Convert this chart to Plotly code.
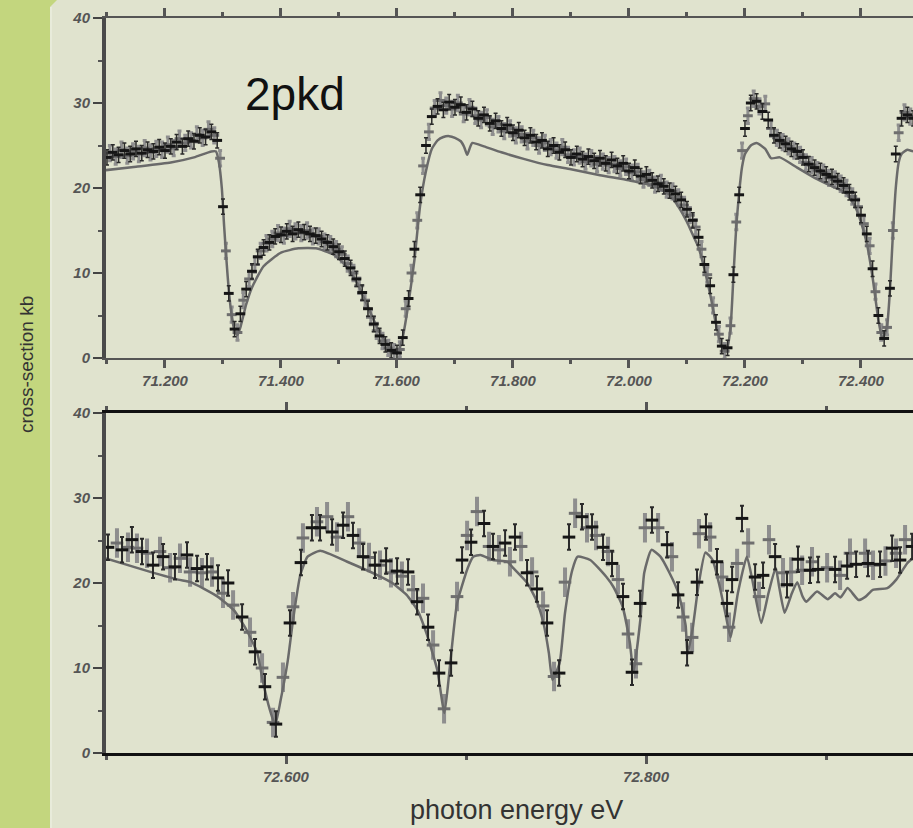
import numpy as np
import plotly.graph_objects as go

# ---------------- data: top panel (71.1 - 72.5 eV) ----------------
top_black_start = 71.10
top_gray_start = 71.105
top_step = 0.01
top_black = [
    23.6, 24.2, 23.9, 24.4, 24.0, 24.6, 24.1, 24.5, 24.3, 24.8,
    24.4, 24.9, 25.4, 24.9, 25.8, 25.5, 26.2, 26.0, 26.6, 25.6,
    17.8, 7.6, 3.4, 5.2, 8.1, 10.2, 11.9, 13.0, 13.6, 14.3,
    14.5, 14.9, 14.6, 15.1, 14.8, 14.6, 14.4, 14.0, 13.6, 13.1,
    12.5, 11.7, 10.6, 9.3, 7.7, 5.8, 4.0, 2.6, 1.6, 0.9,
    0.6, 2.4, 7.0, 12.8, 19.2, 25.0, 28.4, 29.6, 29.2, 30.1,
    29.5, 29.8, 28.9, 29.3, 28.2, 28.6, 27.6, 27.9, 27.0, 27.4,
    26.5, 26.8, 25.9, 26.2, 25.4, 25.6, 24.6, 25.0, 24.2, 24.5,
    23.6, 24.0, 23.4, 23.7, 23.2, 23.5, 22.9, 23.3, 22.6, 22.9,
    22.0, 22.4, 21.4, 21.6, 20.9, 20.5, 20.2, 19.7, 19.3, 18.6,
    17.5, 16.2, 14.2, 11.0, 8.5, 4.2, 1.4, 1.2, 9.8, 19.2,
    27.0, 30.0, 30.2, 29.0, 28.0, 26.2, 25.6, 25.2, 24.6, 24.3,
    23.6, 22.8, 22.4, 22.0, 21.6, 21.3, 20.8, 20.3, 19.5, 18.6,
    16.8, 14.6, 10.5, 5.0, 2.3, 8.2, 24.0, 28.2, 28.6, 28.2,
]
top_gray = [
    24.1, 23.7, 24.5, 23.8, 24.3, 24.0, 24.7, 24.2, 24.6, 24.5,
    25.1, 24.7, 25.8, 25.3, 25.6, 26.3, 25.9, 26.9, 26.2, 23.5,
    12.6, 5.1, 3.0, 6.8, 9.3, 11.0, 12.6, 13.5, 14.0, 14.7,
    14.4, 15.2, 14.9, 14.7, 15.0, 14.3, 14.3, 13.7, 13.4, 12.8,
    12.2, 11.1, 10.0, 8.5, 6.8, 4.8, 3.2, 2.0, 1.2, 0.7,
    1.0, 5.8, 10.0, 16.2, 22.6, 26.6, 29.4, 30.3, 29.7, 29.3,
    30.0, 28.7, 29.5, 28.5, 28.0, 28.3, 27.2, 27.5, 26.7, 27.0,
    26.2, 26.3, 25.5, 25.9, 25.0, 25.3, 24.8, 24.4, 24.8, 23.9,
    23.6, 23.8, 23.1, 23.5, 22.8, 23.1, 22.7, 22.8, 22.3, 22.5,
    21.8, 21.9, 21.0, 21.2, 20.4, 20.6, 19.8, 19.6, 18.9, 18.0,
    16.8, 15.4, 12.8, 9.8, 6.2, 2.8, 0.8, 3.8, 16.0, 24.4,
    28.5, 30.5, 29.6, 29.9, 27.0, 25.9, 25.4, 24.9, 24.4, 23.9,
    23.0, 22.7, 22.1, 21.8, 21.2, 21.0, 20.5, 20.0, 19.0, 17.8,
    15.8, 13.2, 7.8, 3.0, 3.6, 15.0, 26.5, 28.9, 28.4,
]
top_err = 0.9
top_theory_e = [
    71.098, 71.15, 71.21, 71.25, 71.28, 71.288, 71.293, 71.298, 71.302, 71.306,
    71.31, 71.315, 71.32, 71.325, 71.33, 71.34, 71.35, 71.37, 71.40, 71.43,
    71.46, 71.49, 71.51, 71.53, 71.55, 71.57, 71.59, 71.60, 71.61, 71.62,
    71.63, 71.64, 71.65, 71.66, 71.67, 71.68, 71.69, 71.70, 71.71, 71.716,
    71.721, 71.726, 71.73, 71.75, 71.78, 71.82, 71.86, 71.90, 71.95, 72.00,
    72.04, 72.07, 72.088, 72.10, 72.11, 72.12, 72.13, 72.14, 72.15, 72.16,
    72.168, 72.175, 72.18, 72.185, 72.19, 72.195, 72.20, 72.21, 72.22, 72.235,
    72.245, 72.26, 72.29, 72.32, 72.35, 72.375, 72.39, 72.40, 72.41, 72.42,
    72.43, 72.437, 72.445, 72.45, 72.455, 72.46, 72.465, 72.47, 72.48, 72.49,
]
top_theory = [
    22.1, 22.5, 23.0, 23.6, 24.3, 24.3, 23.0, 20.0, 15.5, 11.5,
    8.0, 5.0, 3.2, 2.7, 3.6, 6.3, 8.3, 10.8, 12.4, 12.9,
    12.9, 12.2, 11.0, 9.0, 6.0, 3.0, 1.0, 0.5, 2.5, 6.5,
    11.5, 18.0, 22.0, 24.6, 25.6, 26.0, 26.1, 25.9, 25.5, 24.8,
    23.9, 24.8, 25.3, 24.9, 24.2, 23.4, 22.7, 22.2, 21.5, 20.9,
    20.3, 19.2, 17.5, 16.0, 14.5, 13.0, 10.5, 7.5, 4.0, 1.3,
    0.8, 3.5, 9.5, 15.5, 19.5, 22.5, 24.0, 25.0, 25.3, 24.6,
    23.5, 23.6, 22.4, 21.2, 20.2, 19.4, 17.8, 16.0, 13.5, 9.5,
    4.5, 2.2, 3.8, 8.0, 14.5, 20.0, 23.0, 24.0, 24.5, 24.3,
]

# ---------------- data: bottom panel (72.5 - 72.95 eV) ----------------
bot_e = [
    72.5011, 72.5061, 72.5089, 72.5122, 72.5144, 72.5172, 72.5200, 72.5228, 72.5261, 72.5300,
    72.5317, 72.5356, 72.5383, 72.5411, 72.5450, 72.5467, 72.5506, 72.5533, 72.5561, 72.5589,
    72.5622, 72.5650, 72.5678, 72.5706, 72.5756, 72.5800, 72.5828, 72.5867, 72.5883, 72.5928,
    72.5944, 72.5983, 72.6022, 72.6039, 72.6083, 72.6094, 72.6144, 72.6172, 72.6189, 72.6228,
    72.6256, 72.6283, 72.6317, 72.6344, 72.6372, 72.6406, 72.6428, 72.6461, 72.6494, 72.6522,
    72.6556, 72.6583, 72.6617, 72.6644, 72.6678, 72.6706, 72.6728, 72.6761, 72.6789, 72.6817,
    72.6850, 72.6878, 72.6917, 72.6950, 72.6978, 72.7006, 72.7028, 72.7061, 72.7100, 72.7128,
    72.7150, 72.7183, 72.7217, 72.7244, 72.7272, 72.7306, 72.7339, 72.7367, 72.7394, 72.7428,
    72.7450, 72.7489, 72.7517, 72.7550, 72.7572, 72.7606, 72.7644, 72.7672, 72.7700, 72.7722,
    72.7761, 72.7789, 72.7811, 72.7844, 72.7872, 72.7900, 72.7922, 72.7944, 72.7967, 72.7994,
    72.8033, 72.8067, 72.8117, 72.8144, 72.8178, 72.8206, 72.8228, 72.8256, 72.8283, 72.8294,
    72.8333, 72.8356, 72.8394, 72.8422, 72.8450, 72.8461, 72.8478, 72.8506, 72.8533, 72.8567,
    72.8606, 72.8628, 72.8650, 72.8683, 72.8717, 72.8761, 72.8783, 72.8806, 72.8844, 72.8867,
    72.8911, 72.8922, 72.8956, 72.9006, 72.9050, 72.9078, 72.9117, 72.9133, 72.9167, 72.9217,
    72.9233, 72.9261, 72.9300, 72.9330, 72.9367, 72.9389, 72.9411, 72.9439, 72.9478,
]
bot_val = [
    24.2, 24.7, 23.9, 24.2, 25.1, 24.1, 23.7, 23.5, 22.1, 23.7,
    23.1, 21.8, 21.9, 22.9, 23.3, 21.3, 21.7, 21.2, 21.9, 21.3,
    20.6, 18.8, 20.0, 17.4, 16.0, 14.2, 11.9, 10.0, 7.8, 3.6,
    3.4, 8.9, 15.3, 17.2, 22.4, 25.3, 26.5, 27.2, 26.5, 27.8,
    26.0, 25.4, 26.8, 27.8, 25.6, 24.7, 23.1, 23.0, 22.1, 22.1,
    22.6, 21.2, 21.4, 20.8, 21.3, 19.2, 17.8, 18.2, 14.8, 12.7,
    9.4, 5.2, 10.6, 18.4, 22.7, 25.6, 24.8, 28.4, 27.0, 24.3,
    24.3, 23.9, 24.7, 22.5, 25.4, 24.3, 21.2, 21.3, 19.3, 17.3,
    15.3, 9.0, 9.4, 20.1, 25.4, 28.2, 27.8, 26.5, 26.6, 25.6,
    24.2, 23.7, 22.3, 20.4, 18.4, 14.0, 9.5, 10.5, 17.6, 26.5,
    27.4, 26.5, 24.5, 23.1, 18.6, 16.0, 11.8, 13.6, 20.1, 25.8,
    26.6, 25.4, 22.5, 20.7, 17.6, 14.8, 20.4, 22.3, 27.6, 24.7,
    20.7, 18.4, 20.9, 25.1, 23.1, 21.2, 19.8, 21.3, 22.8, 21.5,
    21.5, 22.5, 21.6, 21.8, 21.6, 20.9, 22.0, 23.5, 22.2, 23.5,
    22.3, 22.1, 22.2, 22.6, 24.1, 23.5, 22.7, 25.1, 24.3,
]
bot_err = 1.5
bot_theory_e = [
    72.500, 72.520, 72.540, 72.547, 72.562, 72.571, 72.578, 72.584, 72.587, 72.591,
    72.594, 72.597, 72.601, 72.604, 72.608, 72.612, 72.619, 72.634, 72.651, 72.659,
    72.667, 72.673, 72.678, 72.684, 72.688, 72.691, 72.695, 72.701, 72.704, 72.708,
    72.715, 72.723, 72.726, 72.734, 72.739, 72.743, 72.746, 72.748, 72.752, 72.755,
    72.759, 72.762, 72.769, 72.778, 72.782, 72.787, 72.791, 72.793, 72.797, 72.799,
    72.803, 72.808, 72.813, 72.818, 72.822, 72.823, 72.826, 72.829, 72.833, 72.837,
    72.841, 72.844, 72.847, 72.851, 72.856, 72.859, 72.864, 72.868, 72.872, 72.874,
    72.877, 72.881, 72.884, 72.887, 72.889, 72.895, 72.901, 72.905, 72.908, 72.912,
    72.918, 72.922, 72.926, 72.934, 72.939, 72.945, 72.949,
]
bot_theory = [
    22.9, 21.6, 20.4, 20.1, 18.4, 16.8, 14.5, 11.8, 8.6, 5.1,
    3.3, 6.2, 10.9, 15.8, 21.0, 23.1, 23.8, 22.5, 20.9, 20.0,
    18.6, 16.8, 14.1, 9.8, 4.7, 10.1, 17.6, 21.8, 23.1, 23.3,
    22.7, 22.5, 21.8, 20.0, 18.0, 15.3, 11.8, 8.6, 10.6, 16.5,
    21.5, 23.1, 22.7, 20.7, 19.5, 17.2, 13.0, 9.5, 16.0, 21.2,
    23.9, 23.1, 21.2, 18.8, 15.0, 11.6, 14.8, 19.5, 23.6, 22.7,
    19.5, 16.5, 13.6, 18.8, 23.1, 20.4, 15.3, 18.8, 21.8, 19.5,
    16.5, 18.8, 20.1, 18.4, 17.8, 19.0, 18.1, 18.8, 18.3, 19.4,
    18.0, 18.4, 19.2, 19.4, 20.4, 22.3, 23.1,
]

top_label = "2pkd"
y_title = "cross-section kb"
x_title = "photon energy eV"

# ---------------- figure ----------------
W, H = 913, 828
ML, MR, MT, MB = 106, 0, 18, 75
PW, PH = W - ML - MR, H - MT - MB

def px_x(px):
    return (px - ML) / PW

def px_y(py):
    return (H - MB - py) / PH

BG = "#E0E3CE"
GREEN = "#C3D67E"
BLACK_C = "#151515"
GRAY_C = "#8e8e8e"
THEORY_C = "#6a6a6a"

top_black_e = np.round(top_black_start + top_step * np.arange(len(top_black)), 4)
top_gray_e = np.round(top_gray_start + top_step * np.arange(len(top_gray)), 4)

fig = go.Figure()

def add_panel(xa, ya, ge, gv, be, bv, te, tv, err, gthick, bthick, msize):
    fig.add_trace(go.Scatter(
        x=ge, y=gv, mode="markers", xaxis=xa, yaxis=ya, showlegend=False,
        marker=dict(symbol="line-ew", size=msize, line=dict(width=3, color="#6f6f6f")),
        error_y=dict(type="constant", value=err, color=GRAY_C, thickness=gthick, width=2),
    ))
    fig.add_trace(go.Scatter(
        x=te, y=tv, mode="lines", xaxis=xa, yaxis=ya, showlegend=False,
        line=dict(color=THEORY_C, width=2.5, shape="spline", smoothing=0.5),
    ))
    fig.add_trace(go.Scatter(
        x=be, y=bv, mode="markers", xaxis=xa, yaxis=ya, showlegend=False,
        marker=dict(symbol="line-ew", size=msize, line=dict(width=3, color=BLACK_C)),
        error_y=dict(type="constant", value=err, color="#2a2a2a", thickness=bthick, width=2),
    ))

add_panel("x", "y", top_gray_e, top_gray, top_black_e, top_black,
          top_theory_e, top_theory, top_err, 3, 1.5, 7)
add_panel("x2", "y2", bot_e[1::2], bot_val[1::2], bot_e[0::2], bot_val[0::2],
          bot_theory_e, bot_theory, bot_err, 4, 2, 9)

tickfont = dict(family="Liberation Sans, Arial, sans-serif", size=15, color="#555555",
                weight="bold", style="italic")

def xaxis_cfg(rng, tick0, anchor, linecolor, linewidth):
    return dict(
        domain=[0, 1], anchor=anchor, range=rng, showgrid=False, zeroline=False,
        tick0=tick0, dtick=0.2, tickformat=".3f", ticks="outside", ticklen=8,
        tickwidth=3, tickcolor="#555555", tickfont=tickfont,
        minor=dict(dtick=0.1, tick0=tick0, ticks="outside", ticklen=4, tickwidth=3,
                   tickcolor="#555555", showgrid=False),
        showline=True, linecolor=linecolor, linewidth=linewidth, mirror="ticks",
    )

def yaxis_cfg(dom, anchor):
    return dict(
        domain=dom, anchor=anchor, range=[0, 40], showgrid=False, zeroline=False,
        tick0=0, dtick=10, ticks="outside", ticklen=9, tickwidth=2,
        tickcolor="#444444", tickfont=tickfont,
        minor=dict(dtick=5, ticks="outside", ticklen=4, tickwidth=2,
                   tickcolor="#555555", showgrid=False),
        showline=True, linecolor="#4a4a4a", linewidth=4, mirror=False,
    )

fig.update_layout(
    width=W, height=H,
    margin=dict(l=ML, r=MR, t=MT, b=MB, pad=0),
    paper_bgcolor=BG, plot_bgcolor=BG,
    xaxis=xaxis_cfg([71.0983, 72.4897], 71.2, "y", "#555555", 2),
    yaxis=yaxis_cfg([px_y(358), 1], "x"),
    xaxis2=xaxis_cfg([72.5, 72.9483], 72.6, "y2", "#111111", 3),
    yaxis2=yaxis_cfg([0, px_y(413)], "x2"),
    shapes=[
        dict(type="rect", xref="paper", yref="paper", x0=px_x(-5), x1=px_x(50),
             y0=px_y(H + 5), y1=px_y(-5), fillcolor=GREEN, line=dict(width=0), layer="below"),
        dict(type="rect", xref="paper", yref="paper", x0=px_x(50), x1=px_x(52),
             y0=px_y(H + 5), y1=px_y(7), fillcolor="#E8EBDA", line=dict(width=0), layer="below"),
        dict(type="path", xref="paper", yref="paper",
             path=f"M {px_x(49)} {px_y(-1)} L {px_x(58)} {px_y(-1)} L {px_x(49)} {px_y(8)} Z",
             fillcolor=GREEN, line=dict(width=0), layer="below"),
    ],
    annotations=[
        dict(text=top_label, xref="paper", yref="paper", x=px_x(295), y=px_y(94),
             showarrow=False, xanchor="center", yanchor="middle",
             font=dict(family="Liberation Sans, Arial, sans-serif", size=46, color="#111111")),
        dict(text=y_title, xref="paper", yref="paper", x=px_x(26), y=px_y(365),
             showarrow=False, textangle=-90, xanchor="center", yanchor="middle",
             font=dict(family="Liberation Sans, Arial, sans-serif", size=19, color="#333333")),
        dict(text=x_title, xref="paper", yref="paper", x=px_x(516), y=px_y(810),
             showarrow=False, xanchor="center", yanchor="middle",
             font=dict(family="Liberation Sans, Arial, sans-serif", size=27, color="#333333")),
    ],
)

fig.write_html("out.html")
